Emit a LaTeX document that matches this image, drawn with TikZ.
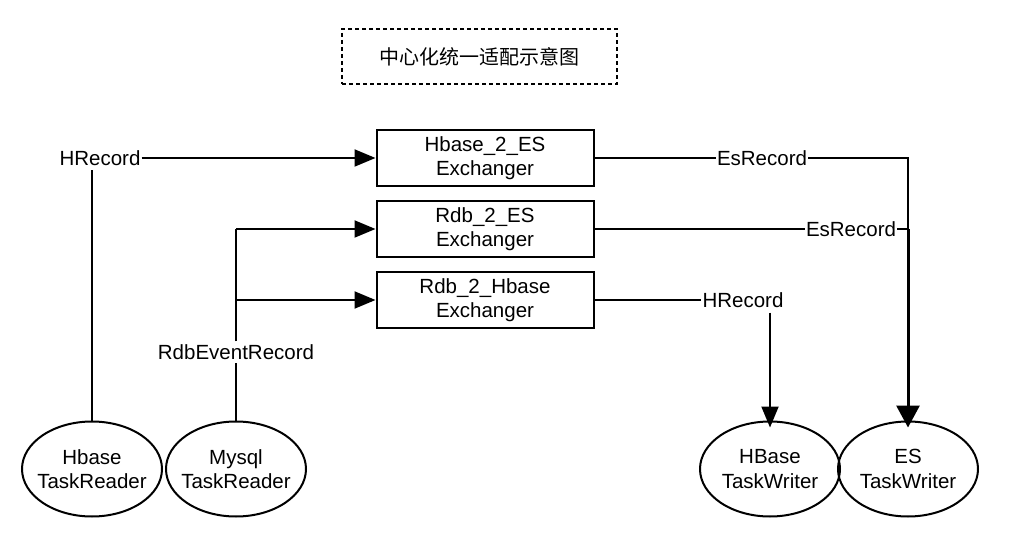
\documentclass[tikz,border=0pt]{standalone}
\usepackage{fontspec}
\setmainfont{Liberation Sans}
\newfontfamily\cjk{Noto Sans CJK SC}
\usetikzlibrary{shapes.geometric,arrows.meta}
\newcommand{\zl}[1]{\makebox[0pt]{#1}}
\begin{document}
\begin{tikzpicture}[x=1pt,y=-1pt,
  every node/.style={font=\fontsize{20.5}{24.5}\selectfont},
  exbox/.style={draw,line width=2pt,minimum width=217pt,minimum height=56pt,align=center,inner sep=0pt},
  taskell/.style={draw,ellipse,line width=2pt,minimum width=140pt,minimum height=95pt,align=center,inner sep=0pt},
  lbl/.style={inner sep=1pt},
  conn/.style={line width=2pt},
  arr/.style={line width=2pt,-{Triangle[length=21pt 0,width=17pt 0]}},
  bigarr/.style={line width=3pt,-{Triangle[length=22pt 0,width=23pt 0]}},
  titlebox/.style={draw,dashed,line width=2pt,dash pattern=on 4pt off 3pt,minimum width=275pt,minimum height=55pt,font=\cjk\fontsize{20}{24}\selectfont}
]
\useasboundingbox (0,0) rectangle (1012,553);
\node[titlebox] (title) at (479.5,56.5) {中心化统一适配示意图};

\node[exbox] (b1) at (485,158) {Hbase\_2\_ES\\Exchanger};
\node[exbox] (b2) at (485,229) {Rdb\_2\_ES\\Exchanger};
\node[exbox] (b3) at (485,300) {Rdb\_2\_Hbase\\Exchanger};

\node[taskell] (r1) at (92,469) {\zl{Hbase}\\\zl{TaskReader}};
\node[taskell] (r2) at (236,469) {\zl{Mysql}\\\zl{TaskReader}};
\node[taskell] (w1) at (770,469) {\zl{HBase}\\\zl{TaskWriter}};
\node[taskell] (w2) at (908,469) {\zl{ES}\\\zl{TaskWriter}};

\node[lbl] (lh1) at (100,158) {HRecord};
\node[lbl] (lrdb) at (236,352) {RdbEventRecord};
\node[lbl] (le1) at (762,158) {EsRecord};
\node[lbl] (le2) at (851,229) {EsRecord};
\node[lbl] (lh2) at (743,300) {HRecord};

\coordinate (j1) at (236,229);
\coordinate (j2) at (236,300);
\coordinate (c1) at (908,158);
\coordinate (c2) at (908,229);

% left inputs
\draw[conn] (r1.north) -- ([yshift=-3pt]r1.north |- lh1.south);
\draw[arr] (lh1.east) -- (b1.west);
\draw[conn,line width=2.5pt] (r2.north) -- ([yshift=-2pt]lrdb.south);
\draw[conn,line width=2.5pt] ([yshift=2pt]lrdb.north) -- (j2);
\draw[conn] (j2) -- (j1);
\draw[arr] (j1) -- (b2.west);
\draw[arr] (j2) -- (b3.west);

% right outputs
\draw[conn] (b1.east) -- (le1.west);
\draw[conn] (le1.east) -- (c1) -- (c2);
\draw[conn] (b2.east) -- (le2.west);
\draw[conn] (le2.east) -- (c2);
\draw[bigarr] (c2) -- ([yshift=-7pt]w2.north);
\draw[conn] (b3.east) -- (lh2.west);
\draw[arr] ([yshift=-4pt]w1.north |- lh2.south) -- ([yshift=-7pt]w1.north);
\end{tikzpicture}
\end{document}
